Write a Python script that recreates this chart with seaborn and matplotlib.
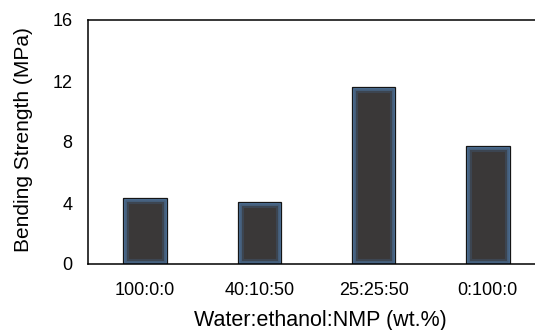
import matplotlib
matplotlib.use("Agg")
import matplotlib.pyplot as plt
import seaborn as sns
import pandas as pd

categories = ["100:0:0", "40:10:50", "25:25:50", "0:100:0"]
strength = [4.31, 4.07, 11.59, 7.74]
yticks = [0, 4, 8, 12, 16]

df = pd.DataFrame({"ratio": categories, "strength": strength})

sns.set_theme(style="white")
plt.rcParams["font.family"] = ["Liberation Sans", "DejaVu Sans"]

fig = plt.figure(figsize=(5.35, 3.3), dpi=100)
ax = fig.add_axes([88 / 535, 66 / 330, 457 / 535, 244 / 330])

# base fill
sns.barplot(data=df, x="ratio", y="strength", order=categories, color="#3a3838",
            saturation=1, width=0.38, errorbar=None, edgecolor="none", ax=ax)

# inner bluish glow (clipped to each bar)
for lw, col, a in [(8, "#3f5670", 0.45), (5, "#4a6b8f", 0.65), (2.5, "#5279a3", 0.9)]:
    k = len(ax.patches)
    sns.barplot(data=df, x="ratio", y="strength", order=categories, color=col,
                saturation=1, width=0.38, errorbar=None, ax=ax)
    for p in ax.patches[k:]:
        p.set_facecolor("none")
        p.set_edgecolor(col)
        p.set_alpha(a)
        p.set_linewidth(lw)
        p.set_clip_path(p)

# dark outline
k = len(ax.patches)
sns.barplot(data=df, x="ratio", y="strength", order=categories, color="#111111",
            saturation=1, width=0.38, errorbar=None, ax=ax)
for p in ax.patches[k:]:
    p.set_facecolor("none")
    p.set_edgecolor("#151515")
    p.set_linewidth(0.9)

ax.set_xlim(-0.5, 3.5)
ax.set_ylim(0, 16)
ax.set_yticks(yticks)
ax.set_yticklabels([str(t) for t in yticks], fontsize=13)
ax.tick_params(axis="y", direction="in", length=4.5, width=1, pad=11, colors="black")
ax.tick_params(axis="x", length=0, pad=13, labelsize=13, colors="black")
for s in ax.spines.values():
    s.set_color("black")
    s.set_linewidth(1.1)

ax.set_xlabel("Water:ethanol:NMP (wt.%)", fontsize=15.5, color="black")
ax.set_ylabel("Bending Strength (MPa)", fontsize=15, color="black")
ax.xaxis.set_label_coords((320 - 88) / 457, -(310 - 264) / 244, transform=ax.transAxes)
ax.yaxis.set_label_coords(-(88 - 33) / 457, (264 - 140) / 244, transform=ax.transAxes)

fig.savefig("out.png", dpi=100)
